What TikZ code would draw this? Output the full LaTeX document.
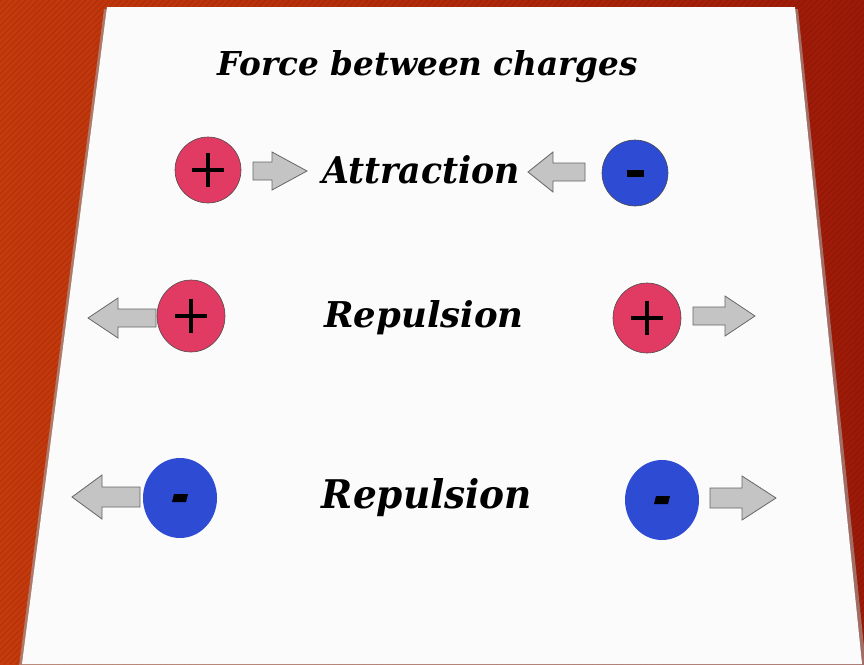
\documentclass[tikz,border=0pt]{standalone}
\usepackage{fontspec}
\setmainfont{DejaVu Serif}
\usetikzlibrary{shapes.geometric}
\definecolor{plusc}{HTML}{E13A63}
\definecolor{minc}{HTML}{2D4BD3}
\definecolor{arrc}{HTML}{C4C4C4}
\definecolor{bgl}{HTML}{C63A0C}
\definecolor{bgr}{HTML}{9E1A08}
\definecolor{paper}{HTML}{FBFBFB}
% tail x, tip x, head base x, y, half shaft, half head
\newcommand{\farrow}[6]{\draw[fill=arrc,draw=black!60,line width=0.8pt] (#1,{#4+#5}) -- (#3,{#4+#5}) -- (#3,{#4+#6}) -- (#2,#4) -- (#3,{#4-#6}) -- (#3,{#4-#5}) -- (#1,{#4-#5}) -- cycle;}
\newcommand{\lbl}[3]{\resizebox{#1}{#2}{\bfseries\itshape #3}}

\begin{document}
\begin{tikzpicture}[x=1pt,y=-1pt,
  charge/.style={ellipse,inner sep=0pt,draw=black!70,line width=0.6pt},
  sign/.style={line width=4.5pt}]
  \useasboundingbox (0,0) rectangle (864,664);
  % background and sheet
  \fill[left color=bgl,right color=bgr] (0,0) rectangle (864,664);
  \begin{scope}
    \clip (0,0) rectangle (864,664);
    \foreach \i in {-680,-674,...,870}
      \draw[black,opacity=0.08,line width=1.5pt] (\i,664) -- ({\i+664},0);
  \end{scope}
  \fill[black!35,opacity=0.6] (104,9) -- (798,9) -- (866,666) -- (19,666) -- cycle;
  \fill[paper] (107,7) -- (795,7) -- (862,664) -- (22,664) -- cycle;
  % labels
  \node[anchor=base] (title) at (428,75) {\lbl{420pt}{25pt}{Force between charges}};
  \node[anchor=base] (attr) at (421,183) {\lbl{198pt}{28pt}{Attraction}};
  \node[anchor=base] (rep1) at (424,327) {\lbl{199pt}{27pt}{Repulsion}};
  \node[anchor=base] (rep2) at (427,508) {\lbl{210pt}{30pt}{Repulsion}};
  % charges
  \foreach \n/\x/\y/\rx/\ry/\c in {pa/208/170/33/33/plusc, na/635/173/33/33/minc, pb/191/316/34/36/plusc, pc/647/318/34/35/plusc}
    \node[charge,fill=\c,minimum width=\rx*2pt,minimum height=\ry*2pt] (\n) at (\x,\y) {};
  \foreach \n/\x/\y in {nb/180/498, nc/662/500}
    \node[charge,draw=none,fill=minc,minimum width=74pt,minimum height=80pt] (\n) at (\x,\y) {};
  \foreach \n in {pa,pb,pc}
    \draw[sign] (\n.center) ++(-16,0) -- ++(32,0) (\n.center) ++(0,-17) -- ++(0,34);
  \fill (na.center) ++(-8.5,-3.5) rectangle ++(17,7);
  \foreach \n in {nb,nc}
    \fill (\n.center) ++(-6,-4) -- ++(14,0) -- ++(-2,8) -- ++(-14,0) -- cycle;
  % force arrows
  \foreach \a/\b/\c/\y/\s/\h in {253/307/272/171/9/19, 585/528/553/172/9/20, 156/88/118/318/9/20, 693/755/725/316/9/20, 140/72/102/497/10/22, 710/776/742/498/10/22}
    {\farrow{\a}{\b}{\c}{\y}{\s}{\h}}
\end{tikzpicture}
\end{document}
